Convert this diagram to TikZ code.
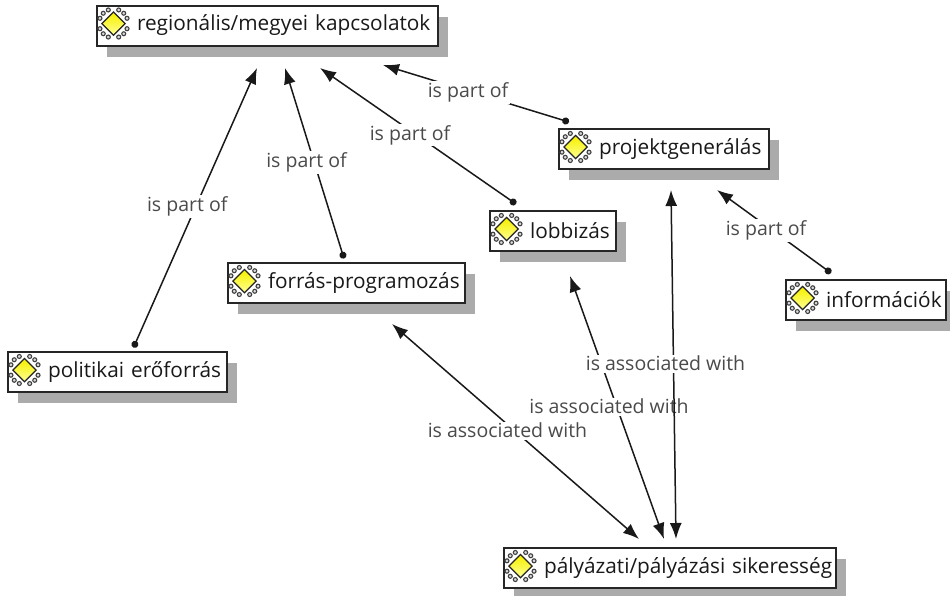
\documentclass[tikz,border=0pt]{standalone}
\usepackage{fontspec}
\setmainfont{Open Sans}
\usepackage{xcolor}
\usetikzlibrary{arrows.meta, calc, shadows}

\definecolor{conceptshadow}{HTML}{ABABAB}
\definecolor{labeltext}{HTML}{4A4A4A}
\definecolor{conceptyellow}{HTML}{F6F000}

\tikzset{
  concept/.style={draw=black!85, line width=2pt, fill=white, inner xsep=0pt, inner ysep=0pt,
    minimum height=40pt, align=left, font=\fontsize{20.8}{24}\selectfont, text=black!90,
    drop shadow={shadow xshift=10pt, shadow yshift=-11pt, fill=conceptshadow, opacity=1}},
  rellabel/.style={fill=white, inner sep=1.5pt, xshift=-8pt, yshift=1pt, text=labeltext, font=\fontsize{19.5}{22}\selectfont},
  partof/.style={line width=1.5pt, black!90, {Circle[length=7pt]}-{Latex[length=16pt,width=12pt]}},
  assoc/.style={line width=1.5pt, black!90, {Latex[length=16pt,width=12pt]}-{Latex[length=16pt,width=12pt]}},
  conceptmark/.pic={
    \foreach \a in {45,135,225,315} {
      \foreach \b in {-24,0,24}
        \draw[black!75, fill=black!15, line width=1.1pt] (\a+\b:14.5) circle (2);
    }
    \fill[black!85] (-12.5,0) -- (0,-12.5) -- (12.5,0) -- (0,12.5) -- cycle;
    \shade[top color=conceptyellow, bottom color=yellow!45!white] (-10.5,0) -- (0,-10.5) -- (10.5,0) -- (0,10.5) -- cycle;
  }
}

\begin{document}
\begin{tikzpicture}[x=1pt,y=-1pt]
\useasboundingbox (0,0) rectangle (950,595);

% Concepts
\foreach \nm/\x/\y/\w/\txt in {
  reg/267.5/25.5/341/{regionális/megyei kapcsolatok},
  proj/664/149/210/{projektgenerálás},
  lobbi/553/231/126/{lobbizás},
  forras/346.5/283/237/{forrás-programozás},
  info/866/300/160/{információk},
  pol/117.5/372/219/{politikai erőforrás},
  pal/670/568/332/{pályázati/pályázási sikeresség}} {
  \node[concept, minimum width=\w pt, text width=\w pt] (\nm) at (\x,\y) {\hspace*{40pt}\raisebox{1.5pt}{\txt}};
  \pic at ($(\nm.west)+(17.5,-2)$) {conceptmark};
}

% is part of
\draw[partof] ([xshift=16pt,yshift=3.5pt]pol.north) -- ([xshift=-10.5pt,yshift=-21.5pt]reg.south) node[rellabel,pos=.5] {is part of};
\draw[partof] ([xshift=-2.5pt,yshift=3.5pt]forras.north) -- ([xshift=17.5pt,yshift=-21.5pt]reg.south) node[rellabel,pos=.5] {is part of};
\draw[partof] ([xshift=-37pt,yshift=6pt]lobbi.north) -- ([xshift=52.5pt,yshift=-21.5pt]reg.south) node[rellabel,pos=.5] {is part of};
\draw[partof] ([xshift=-95pt,yshift=6pt]proj.north) -- ([xshift=115.5pt,yshift=-18.5pt]reg.south) node[rellabel,pos=.5] {is part of};
\draw[partof] ([xshift=-35pt,yshift=6pt]info.north) -- ([xshift=53pt,yshift=-20pt]proj.south) node[rellabel,pos=.5] {is part of};

% is associated with
\draw[assoc] ([xshift=45.5pt,yshift=-20pt]forras.south) -- ([xshift=-31pt,yshift=8pt]pal.north) node[rellabel,pos=.5] {is associated with};
\draw[assoc] ([xshift=17pt,yshift=-24pt]lobbi.south) -- ([xshift=-6pt,yshift=8pt]pal.north) node[rellabel,pos=.5] {is associated with};
\draw[assoc] ([xshift=7pt,yshift=-20pt]proj.south) -- ([xshift=6pt,yshift=8pt]pal.north) node[rellabel,pos=.5] {is associated with};
\end{tikzpicture}
\end{document}
